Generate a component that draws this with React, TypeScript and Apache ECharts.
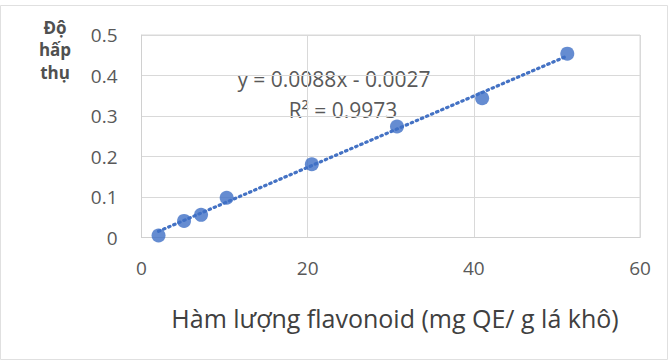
import React, { useEffect, useRef } from "react";
import * as echarts from "echarts";

const concX = [2.05, 5.12, 7.17, 10.25, 20.5, 30.75, 41, 51.25];
const absY = [0.005, 0.041, 0.056, 0.098, 0.181, 0.274, 0.344, 0.454];
const trendX = [2.05, 51.25];
const trendY = [0.0153, 0.4483];
const xTicks = [0, 20, 40, 60];
const yTicks = [0, 0.1, 0.2, 0.3, 0.4, 0.5];
const eqText = "y = 0.0088x - 0.0027";
const r2Text = "R² = 0.9973";
const xTitle = "Hàm lượng flavonoid (mg QE/ g lá khô)";
const yTitleLines = ["Độ", "hấp", "thụ"];

const FONT = "'Open Sans', 'Noto Sans', sans-serif";
const GRAY = "#595959";

export default function App() {
  const ref = useRef<HTMLDivElement>(null);
  useEffect(() => {
    const chart = echarts.init(ref.current!, null, { renderer: "svg" });
    chart.setOption({
      animation: false,
      backgroundColor: "#ffffff",
      grid: { left: 141.5, right: 29, top: 35, bottom: 123.5, show: true, borderColor: "#d9d9d9", borderWidth: 1 },
      xAxis: {
        type: "value",
        min: xTicks[0],
        max: xTicks[xTicks.length - 1],
        interval: 20,
        axisLine: { show: true, lineStyle: { color: "#d0d0d0", width: 1 } },
        axisTick: { show: false },
        splitLine: { show: true, lineStyle: { color: "#d9d9d9", width: 1 } },
        axisLabel: { color: GRAY, fontSize: 19, fontFamily: FONT, margin: 21 },
      },
      yAxis: {
        type: "value",
        min: yTicks[0],
        max: yTicks[yTicks.length - 1],
        interval: 0.1,
        axisLine: { show: true, lineStyle: { color: "#d0d0d0", width: 1 } },
        axisTick: { show: false },
        splitLine: { show: true, lineStyle: { color: "#d9d9d9", width: 1 } },
        axisLabel: { color: GRAY, fontSize: 19, fontFamily: FONT, margin: 24 },
      },
      series: [
        {
          type: "line",
          data: trendX.map((x, i) => [x, trendY[i]]),
          symbol: "none",
          lineStyle: { color: "#4472C4", width: 3.2, type: [1.5, 4], cap: "round" },
          z: 2,
        },
        {
          type: "scatter",
          data: concX.map((x, i) => [x, absY[i]]),
          symbol: "circle",
          symbolSize: 14,
          itemStyle: { color: "#3F6FC6" },
          z: 3,
        },
      ],
      graphic: [
        { type: "rect", shape: { x: 0.5, y: 5.5, width: 667, height: 354 }, style: { fill: "none", stroke: "#e0e0e0", lineWidth: 1 }, silent: true },
        { type: "text", x: 334, y: 79, style: { text: eqText, fill: GRAY, font: `21px ${FONT}`, align: "center", verticalAlign: "middle" } },
        { type: "text", x: 343, y: 110, style: { text: r2Text, fill: GRAY, font: `21px ${FONT}`, align: "center", verticalAlign: "middle" } },
        { type: "text", x: 395, y: 318, style: { text: xTitle, fill: "#404040", font: `25px ${FONT}`, align: "center", verticalAlign: "middle" } },
        ...yTitleLines.map((t, i) => ({
          type: "text",
          x: 55,
          y: 27 + i * 22.5,
          style: { text: t, fill: "#505050", font: `bold 17px ${FONT}`, align: "center", verticalAlign: "middle" },
        })),
      ],
    });
    return () => chart.dispose();
  }, []);
  return <div ref={ref} style={{ position: "fixed", left: 0, top: 0, width: 669, height: 361 }} />;
}
